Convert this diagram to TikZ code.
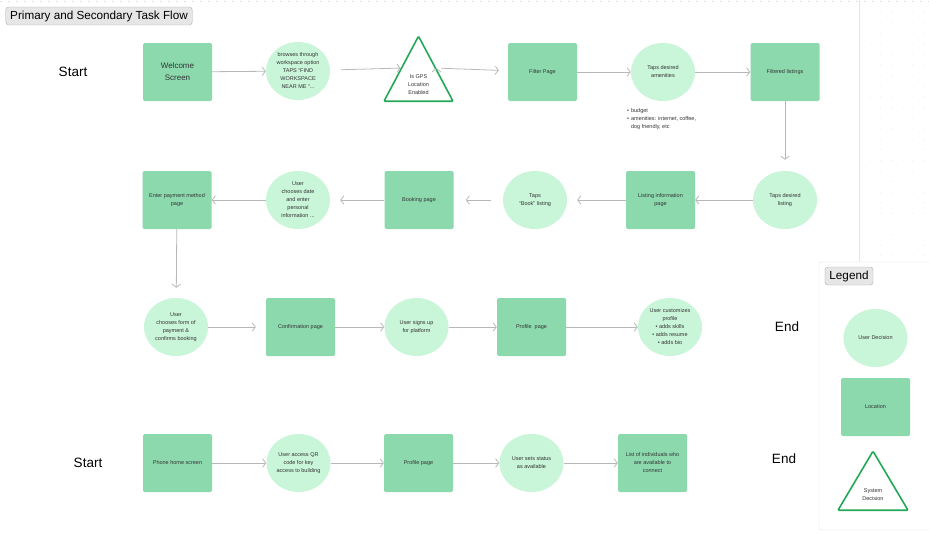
\documentclass[tikz,border=0pt]{standalone}
\usepackage{fontspec}
\setmainfont{Liberation Sans}
\usetikzlibrary{shapes.geometric,arrows.meta}

\definecolor{locgreen}{HTML}{8CD9AE}
\definecolor{decgreen}{HTML}{C9F5D9}
\definecolor{sysgreen}{HTML}{22A857}
\definecolor{flowgray}{HTML}{B8B8B8}
\definecolor{inkgray}{HTML}{333333}
\definecolor{tagfill}{HTML}{E6E6E6}

\tikzset{
	smalltext/.style={font=\fontsize{5.5}{8}\selectfont, text=inkgray},
	location/.style={rectangle, fill=locgreen, rounded corners=1.5pt, minimum width=69pt, minimum height=58pt, align=center, smalltext},
	decision/.style={ellipse, fill=decgreen, minimum width=64pt, minimum height=58pt, inner sep=0pt, align=center, smalltext},
	sysdec/.style={isosceles triangle, isosceles triangle stretches, shape border rotate=90, draw=sysgreen, line width=1.6pt, rounded corners=1pt, fill=white, minimum width=69pt, minimum height=65pt, inner sep=0pt},
	systext/.style={align=center, smalltext},
	tag/.style={draw=gray!60, fill=tagfill, rounded corners=3pt, font=\fontsize{11.7}{14}\selectfont, inner xsep=4.5pt, minimum height=18pt},
	marker/.style={font=\fontsize{13.5}{16}\selectfont}
}

\begin{document}
\begin{tikzpicture}[
		x = 1pt, y = -1pt, % pixel grid
		> = {Straight Barb[length=3.2pt,width=8.5pt]}, % arrow head style
		shorten > = 0pt,
		flow/.style = {draw=flowgray, line width=0.8pt}
	]
	\useasboundingbox (0,0) rectangle (929,533);
	
	% canvas
	\draw[gray!25, dash pattern=on 2pt off 6pt] (0,1) -- (929,1);
	\draw[gray!20] (859,0) -- (859,262);
	\foreach \gx in {0,...,5}
	\foreach \gy in {0,...,23}
	\fill[gray!30] (870+\gx*10.7, 12+\gy*10.6) circle (0.35pt);
	
	\node[tag] (title) at (99,16) {Primary and Secondary Task Flow};
	
	% primary flow
	\node[marker] (start1) at (73,72) {Start};
	\node[location, font=\fontsize{8}{12}\selectfont] (welcome) at (177.5,72) {Welcome\\Screen};
	\node[decision] (browse) at (298,71) {browses through\\workspace option\\TAPS “FIND\\WORKSPACE\\NEAR ME “...};
	\node[sysdec, anchor=lower side] (gps) at (418.5,102) {};
	\node[systext] (gpstext) at (418.5,84.5) {Is GPS\\Location\\Enabled};
	\node[location] (filter) at (542.5,72) {Filter Page};
	\node[decision] (amenities) at (663,72) {Taps desired\\amenities};
	\node[location] (filtered) at (785,72) {Filtered listings};
	\node[smalltext, anchor=north west, inner sep=0pt] (budget) at (627,107) {\begin{tabular}{@{}l@{\hspace{2pt}}l@{}}
			\textbullet & budget\\
			\textbullet & amenities: internet, coffee,\\
			& dog friendly, etc
	\end{tabular}};
	
	\node[decision] (listing) at (785,200) {Taps desired\\listing};
	\node[location] (listinfo) at (660.5,200) {Listing information\\page};
	\node[decision] (book) at (535,200) {Taps\\“Book” listing};
	\node[location] (booking) at (419,200) {Booking page};
	\node[decision] (date) at (298,200) {User\\chooses date\\and enter\\personal\\information ...};
	\node[location] (payment) at (177,200) {Enter payment method\\page};
	
	\node[decision] (payform) at (176,327) {User\\chooses form of\\payment \&\\confirms booking};
	\node[location] (confirm) at (300.5,327) {Confirmation page};
	\node[decision] (signup) at (416.5,327) {User signs up\\for platform};
	\node[location] (profile1) at (531.5,327) {Profile\ \ page};
	\node[decision] (customize) at (670,327) {User customizes\\profile\\\textbullet\ adds skills\\\textbullet\ adds resume\\\textbullet\ adds bio};
	\node[marker] (end1) at (787,327) {End};
	
	% secondary flow
	\node[marker] (start2) at (88,463) {Start};
	\node[location] (phone) at (177.5,463) {Phone home screen};
	\node[decision] (qr) at (298.5,463) {User access QR\\code for key\\access to building};
	\node[location] (profile2) at (418.5,463) {Profile page};
	\node[decision] (status) at (531.5,463) {User sets status\\as available};
	\node[location] (individuals) at (652.5,463) {List of individuals who\\are available to\\connect};
	\node[marker] (end2) at (784,459) {End};
	
	\path[->, flow]
	(welcome) edge (browse)
	(browse) edge [shorten <=11pt] (gps.left side)
	(gps.right side) edge [shorten <=5pt, shorten >=9pt] (filter)
	(filter) edge (amenities)
	(amenities) edge (filtered)
	(filtered) edge [shorten >=11pt] (listing)
	(listing) edge (listinfo)
	(listinfo) edge [shorten >=10pt] (book)
	(book) edge [shorten <=12pt, shorten >=12pt] (booking)
	(booking) edge [shorten >=10pt] (date)
	(date) edge (payment)
	(payment) edge [shorten >=10pt] (payform)
	(payform) edge [shorten >=10pt] (confirm)
	(confirm) edge (signup)
	(signup) edge (profile1)
	(profile1) edge (customize)
	(phone) edge (qr)
	(qr) edge (profile2)
	(profile2) edge (status)
	(status) edge (individuals);
	
	% legend
	\draw[gray!25, fill=white, rounded corners=3pt] (819,262) rectangle (945,530);
	\node[tag] (legendtag) at (849,276) {Legend};
	\node[decision] (userdec) at (875.5,338) {User Decision};
	\node[location] (lockey) at (875.5,407) {Location};
	\node[sysdec, anchor=lower side, minimum width=70pt, minimum height=59pt] (syskey) at (873,511) {};
	\node[systext] (syskeytext) at (873,495) {System\\Decision};
\end{tikzpicture}
\end{document}
